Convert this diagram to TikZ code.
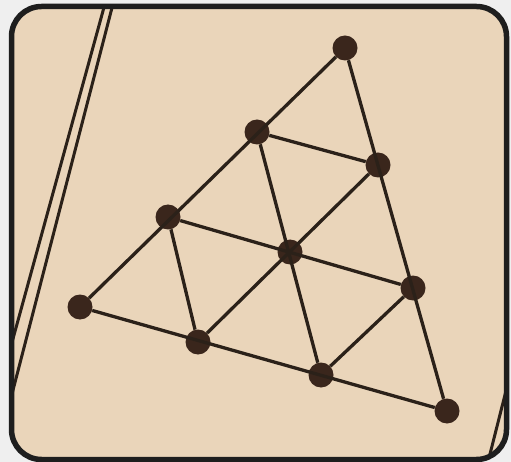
\documentclass[tikz,border=0pt]{standalone}
\begin{document}
\begin{tikzpicture}[x=1pt,y=-1pt,
  dot/.style={circle,fill=dotcol,inner sep=0pt,minimum size=25pt},
  edge/.style={draw=linecol,line width=3.3pt},
  rule/.style={draw=linecol,line width=3pt}]
\definecolor{paper}{HTML}{EAD5BA}
\definecolor{outside}{HTML}{EFEFEF}
\definecolor{dotcol}{HTML}{3A261C}
\definecolor{linecol}{HTML}{2B2119}
\definecolor{framecol}{HTML}{1E1E1E}
\useasboundingbox (0,0) rectangle (511,462);
\fill[outside] (0,0) rectangle (511,462);
\fill[paper,rounded corners=30pt] (11.5,6.5) rectangle (506.5,459.5);
\begin{scope}
\clip[rounded corners=30pt] (11.5,6.5) rectangle (506.5,459.5);
\coordinate (r1a) at (106,0);
\coordinate (r1b) at (11,346);
\coordinate (r2a) at (114,0);
\coordinate (r2b) at (12,394);
\coordinate (r3a) at (510,375);
\coordinate (r3b) at (488,462);
\draw[rule] (r1a) -- (r1b);
\draw[rule] (r2a) -- (r2b);
\draw[rule] (r3a) -- (r3b);
\end{scope}
\draw[framecol,line width=5.5pt,rounded corners=30pt] (11.5,6.5) rectangle (506.5,459.5);
% dots
\node[dot] (a) at (345,48) {};
\node[dot] (b1) at (257,132) {};
\node[dot] (b2) at (378,165) {};
\node[dot] (c1) at (168,217) {};
\node[dot] (c2) at (290,252) {};
\node[dot] (c3) at (413,288) {};
\node[dot] (d1) at (80,307) {};
\node[dot] (d2) at (198,342) {};
\node[dot] (d3) at (321,375) {};
\node[dot] (d4) at (447,411) {};
% edges
\draw[edge] (d1) -- (a);
\draw[edge] (a) -- (d4);
\draw[edge] (d1) -- (d4);
\draw[edge] (b1) -- (b2);
\draw[edge] (c1) -- (c3);
\draw[edge] (d2) -- (b2);
\draw[edge] (d3) -- (c3);
\draw[edge] (b1) -- (d3);
\draw[edge] (c1) -- (d2);
\end{tikzpicture}
\end{document}
